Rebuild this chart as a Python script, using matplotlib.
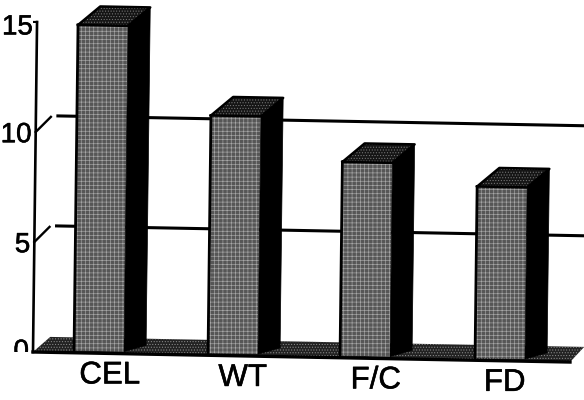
"""Scanned pseudo 3D bar chart."""
import matplotlib
matplotlib.use("Agg")
import matplotlib.pyplot as plt
import matplotlib.patheffects as pe
from matplotlib.transforms import Affine2D, Bbox

categories = ["CEL", "WT", "F/C", "FD"]
values = [14.9, 10.9, 8.9, 7.9]
y_ticks = [0, 5, 10, 15]
y_tick_labels = ["0", "5", "10", "15"]

plt.rcParams["font.family"] = ["Liberation Sans", "DejaVu Sans"]
plt.rcParams["hatch.linewidth"] = 0.45

# page coordinates, the scan is a bit skewed
bar_left = [74, 208, 340, 475]
label_pos = [110, 243, 376, 505]
tick_shift = [0.0, -0.15, -0.15, -0.25]
bar_width = 50
depth_x = 22

fig = plt.figure(figsize=(5.84, 4.0), dpi=100)
ax = fig.add_axes([0, 0, 1, 1])
ax.set_xlim(0, 584)
ax.set_ylim(-48 / 22, 352 / 22)
ax.axis("off")

skew = Affine2D.from_values(1, -0.00085, 0.27, 1, 0, 0.028) + ax.transData
heavy = [pe.withStroke(linewidth=0.4, foreground="black")]

# floor
ax.fill([33, 50, 584, 570], [0, 0.7, 0.7, 0], transform=skew, facecolor="#222222",
        edgecolor="#8a8a8a", hatch="......", linewidth=0, zorder=1)
ax.plot([33, 570], [0, 0], transform=skew, color="black", lw=2.4, zorder=2)

# y axis with back wall lines
ax.plot([33, 33], [0, 15], transform=skew, color="black", lw=1.9, zorder=3)
ax.plot([30, 33], [15, 15], transform=skew, color="black", lw=1.5, zorder=3)
for v in y_ticks[1:3]:
    ax.plot([33, 48], [v, v + 0.7], transform=skew, color="black", lw=1.7, zorder=1)
    ax.plot([55, 610], [v + 0.75, v + 0.75], transform=skew, color="black", lw=2.2, zorder=1)

for tick, text, shift in zip(y_ticks, y_tick_labels, tick_shift):
    t = ax.text(29, tick + shift, text, transform=skew, fontsize=20, ha="right", va="center",
                zorder=4, path_effects=heavy)
    if tick == 0:
        # the zero is cut off by the floor in the scan
        t.set_clip_on(True)
        t.set_clip_box(Bbox([[0, 48], [584, 400]]))

# bars
for left, val in zip(bar_left, values):
    base = 0.1
    right = left + bar_width
    ax.bar(left, val - base, width=bar_width, bottom=base, align="edge", transform=skew,
           facecolor="#565656", edgecolor="#a8a8a8", hatch="++++", linewidth=0, zorder=5)
    # left edge of the front face
    ax.plot([left, left], [base, val], transform=skew, color="black", lw=2.0, zorder=6)
    # side
    ax.fill([right, right, right + depth_x, right + depth_x],
            [base, val, val + 0.86, base + 0.3], transform=skew, color="black", lw=0.5, zorder=5)
    # top
    ax.fill([left, left + depth_x, right + depth_x, right],
            [val, val + 0.86, val + 0.86, val], transform=skew, facecolor="#151515",
            edgecolor="#777777", hatch="......", linewidth=0, zorder=5)
    ax.plot([left, left + depth_x, right + depth_x, right, left],
            [val, val + 0.86, val + 0.86, val, val], transform=skew, color="black", lw=1.8, zorder=6)

for name, pos in zip(categories, label_pos):
    ax.text(pos, -1, name, transform=skew, fontsize=22.5, ha="center", va="center", zorder=6,
            path_effects=heavy)

fig.savefig("out.png", dpi=100, facecolor="white")
